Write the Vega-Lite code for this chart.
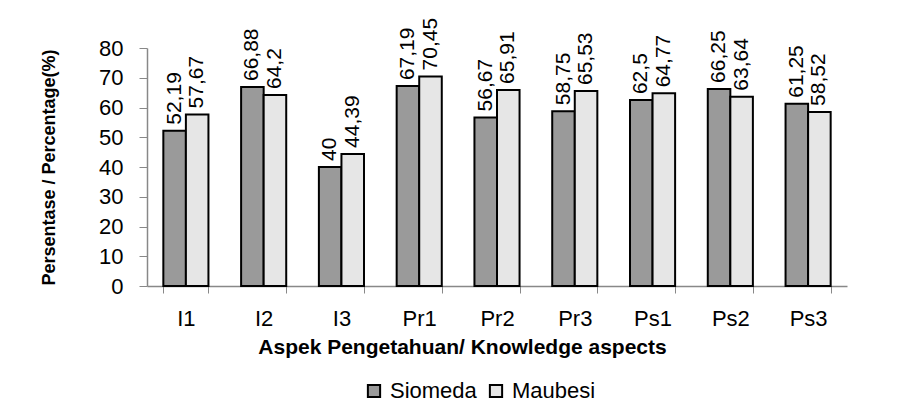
{
  "$schema": "https://vega.github.io/schema/vega-lite/v6.json",
  "width": 700,
  "height": 238,
  "autosize": {"type": "none"},
  "padding": {"left": 147, "top": 48, "right": 67, "bottom": 122},
  "background": "white",
  "config": {
    "view": {"stroke": null},
    "font": "Liberation Sans",
    "locale": {"number": {"decimal": ",", "thousands": ".", "grouping": [3], "currency": ["", ""]}},
    "axis": {"grid": false, "domainColor": "#888888", "tickColor": "#888888", "labelColor": "black", "titleColor": "black", "labelFont": "Liberation Sans", "titleFont": "Liberation Sans"}
  },
  "data": {"values": [
    {"aspek": "I1", "lokasi": "Siomeda", "nilai": 52.19},
    {"aspek": "I1", "lokasi": "Maubesi", "nilai": 57.67},
    {"aspek": "I2", "lokasi": "Siomeda", "nilai": 66.88},
    {"aspek": "I2", "lokasi": "Maubesi", "nilai": 64.2},
    {"aspek": "I3", "lokasi": "Siomeda", "nilai": 40},
    {"aspek": "I3", "lokasi": "Maubesi", "nilai": 44.39},
    {"aspek": "Pr1", "lokasi": "Siomeda", "nilai": 67.19},
    {"aspek": "Pr1", "lokasi": "Maubesi", "nilai": 70.45},
    {"aspek": "Pr2", "lokasi": "Siomeda", "nilai": 56.67},
    {"aspek": "Pr2", "lokasi": "Maubesi", "nilai": 65.91},
    {"aspek": "Pr3", "lokasi": "Siomeda", "nilai": 58.75},
    {"aspek": "Pr3", "lokasi": "Maubesi", "nilai": 65.53},
    {"aspek": "Ps1", "lokasi": "Siomeda", "nilai": 62.5},
    {"aspek": "Ps1", "lokasi": "Maubesi", "nilai": 64.77},
    {"aspek": "Ps2", "lokasi": "Siomeda", "nilai": 66.25},
    {"aspek": "Ps2", "lokasi": "Maubesi", "nilai": 63.64},
    {"aspek": "Ps3", "lokasi": "Siomeda", "nilai": 61.25},
    {"aspek": "Ps3", "lokasi": "Maubesi", "nilai": 58.52}
  ]},
  "encoding": {
    "x": {
      "field": "aspek", "type": "nominal", "sort": null,
      "scale": {"paddingInner": 0.42, "paddingOuter": 0.21},
      "axis": {
        "title": "Aspek Pengetahuan/ Knowledge aspects",
        "titleFontSize": 21, "titleFontWeight": "bold", "titlePadding": 7,
        "titleX": 315, "titleAlign": "center",
        "labelAngle": 0, "labelFontSize": 22, "labelPadding": 15,
        "tickSize": 7, "tickBand": "extent", "domainWidth": 1.5
      }
    },
    "xOffset": {"field": "lokasi", "type": "nominal", "sort": ["Siomeda", "Maubesi"], "scale": {"paddingInner": 0, "paddingOuter": 0}},
    "y": {
      "field": "nilai", "type": "quantitative",
      "scale": {"domain": [0, 80], "nice": false},
      "axis": {
        "title": "Persentase / Percentage(%)",
        "titleFontSize": 18, "titleFontWeight": "bold", "titlePadding": 40,
        "values": [0, 10, 20, 30, 40, 50, 60, 70, 80],
        "labelFontSize": 22, "labelPadding": 16, "tickSize": 8, "domainWidth": 1.5
      }
    }
  },
  "layer": [
    {
      "mark": {"type": "bar", "stroke": "black", "strokeWidth": 2},
      "encoding": {
        "fill": {
          "field": "lokasi", "type": "nominal",
          "scale": {"domain": ["Siomeda", "Maubesi"], "range": ["#9a9a9a", "#e6e6e6"]},
          "legend": {
            "title": null, "orient": "none", "direction": "horizontal",
            "legendX": 216, "legendY": 332,
            "symbolType": "square", "symbolSize": 150, "symbolStrokeColor": "black", "symbolStrokeWidth": 2,
            "labelFontSize": 22, "labelColor": "black", "labelOffset": 5, "columnPadding": 8
          }
        }
      }
    },
    {
      "mark": {"type": "text", "angle": 270, "align": "left", "baseline": "middle", "dx": 6, "fontSize": 21, "color": "black"},
      "encoding": {
        "text": {"field": "nilai", "type": "quantitative", "format": ".4~r"}
      }
    }
  ]
}
